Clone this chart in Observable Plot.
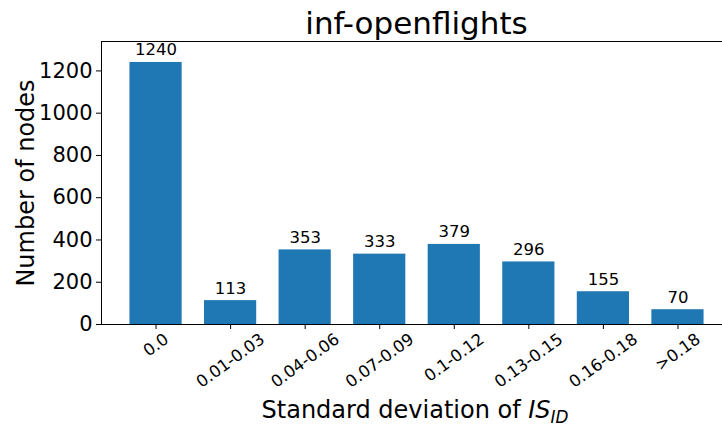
<!DOCTYPE html>
<html><head><meta charset="utf-8">
<script src="https://cdn.jsdelivr.net/npm/d3@7"></script>
<script src="https://cdn.jsdelivr.net/npm/@observablehq/plot@0.6"></script>
<style>
html,body{margin:0;padding:0;background:#fff;overflow:hidden;}
body{font-family:"DejaVu Sans",sans-serif;color:#000;}
#title{height:38px;line-height:46px;font-size:31px;text-align:center;padding-left:111px;box-sizing:border-box;width:722px;white-space:nowrap;}
</style></head><body>
<div id="title"></div>
<div id="chart"></div>
<script>
const titleText = "inf-openflights";
const categories = ["0.0","0.01-0.03","0.04-0.06","0.07-0.09","0.1-0.12","0.13-0.15","0.16-0.18",">0.18"];
const counts = [1240,113,353,333,379,296,155,70];
const yTicks = [0,200,400,600,800,1000,1200];
const yLabel = "Number of nodes";
const xLabelMain = "Standard deviation of ";
const xLabelVar = "IS";
const xLabelSub = "ID";

document.getElementById("title").textContent = titleText;
const data = categories.map((c,i)=>({cat:c, count:counts[i]}));

const tickFont = 16.5;
const rot = 36;
const ctx = document.createElement("canvas").getContext("2d");
ctx.font = `${tickFont}px "DejaVu Sans"`;
const ang = rot*Math.PI/180;
const tickLabelMarks = categories.map(c=>{
  const w = ctx.measureText(c).width;
  const vert = w*Math.sin(ang) + tickFont*0.73*Math.cos(ang);
  return Plot.text([c], {x: d=>d, y: ()=>0, text: d=>d, rotate: -rot, textAnchor:"middle", lineAnchor:"middle", fontSize: tickFont, dy: 8 + vert/2});
});

const chart = Plot.plot({
  width: 722, height: 389,
  marginLeft: 101, marginRight: 0, marginTop: 3, marginBottom: 103,
  style: {fontFamily: '"DejaVu Sans", sans-serif', background: "#fff", color: "#000", overflow: "visible"},
  x: {domain: categories, range: [101, 732], paddingInner: 0.3, paddingOuter: 0.3815, round: false, axis: null},
  y: {domain: [0, d3.max(counts)*1.08], axis: null},
  marks: [
    Plot.barY(data, {x:"cat", y:"count", fill:"#1f77b4"}),
    Plot.text(data, {x:"cat", y:"count", text: d=>String(d.count), dy:-7, lineAnchor:"bottom", fontSize:16.5}),
    Plot.axisY({ticks: yTicks, tickSize: 5, tickPadding: 4, fontSize: 21, tickFormat: d=>String(d), label: null, stroke:"#000"}),
    Plot.axisX({tickSize: 5, tickFormat: () => "", label: null, stroke:"#000"}),
    ...tickLabelMarks,
    Plot.frame({anchor:"left", stroke:"#000"}),
    Plot.frame({anchor:"top", stroke:"#000"}),
    Plot.frame({anchor:"bottom", stroke:"#000"}),
    Plot.text([yLabel], {frameAnchor:"left", text: d=>d, rotate:-90, dx:-68, textAnchor:"middle", lineAnchor:"bottom", fontSize:24}),
    Plot.text([xLabelMain], {frameAnchor:"bottom", text: d=>d, dy:93, dx: 3, textAnchor:"middle", lineAnchor:"bottom", fontSize:24, className:"xlabel"})
  ]
});
document.getElementById("chart").appendChild(chart);
// rich-text label with italic variable and subscript
const xl = chart.querySelector(".xlabel text");
if (xl) {
  xl.textContent = xLabelMain;
  const ns = "http://www.w3.org/2000/svg";
  const t1 = document.createElementNS(ns, "tspan");
  t1.setAttribute("font-style","italic"); t1.textContent = xLabelVar;
  const t2 = document.createElementNS(ns, "tspan");
  t2.setAttribute("font-style","italic"); t2.setAttribute("font-size","0.7em"); t2.setAttribute("dy","0.3em");
  t2.textContent = xLabelSub;
  xl.appendChild(t1); xl.appendChild(t2);
}
</script>
</body></html>
